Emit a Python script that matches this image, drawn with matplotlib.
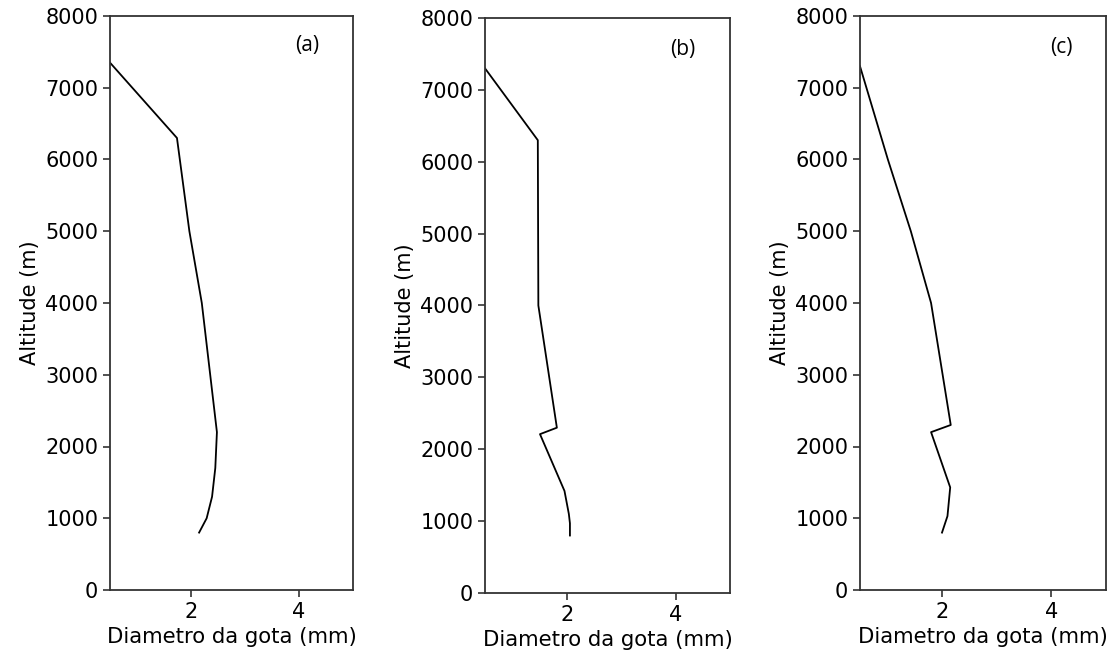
import numpy as np
import matplotlib
matplotlib.use("agg")
import matplotlib.pyplot as plt

# perfis de diametro de gota (mm) vs altitude (m)
alt_a = [7350, 6300, 5000, 4000, 2200, 1700, 1300, 1000, 800]
diam_a = [0.5, 1.74, 1.97, 2.20, 2.48, 2.45, 2.39, 2.29, 2.15]

alt_b = [7300, 6300, 4000, 2300, 2210, 1420, 1100, 970, 800]
diam_b = [0.5, 1.47, 1.48, 1.82, 1.51, 1.96, 2.04, 2.06, 2.06]

alt_c = [7300, 6000, 5000, 4000, 2300, 2200, 1430, 1030, 800]
diam_c = [0.5, 1.01, 1.43, 1.80, 2.16, 1.80, 2.15, 2.10, 2.00]

panel_labels = ["(a)", "(b)", "(c)"]
xticks = [2, 4]
yticks = [0, 1000, 2000, 3000, 4000, 5000, 6000, 7000, 8000]

W, H = 1116, 659
fig = plt.figure(figsize=(W / 100, H / 100), dpi=100)

# axes boxes in pixels: left, right, top, bottom
boxes = [(110, 353, 16, 590), (485, 730, 18, 593), (860, 1106, 16, 590)]
label_pos = [(307, 45), (683, 49), (1061, 47)]
data = [(diam_a, alt_a), (diam_b, alt_b), (diam_c, alt_c)]

for (l, r, t, b), (x, y), lab, (lx, ly) in zip(boxes, data, panel_labels, label_pos):
    ax = fig.add_axes([l / W, 1 - b / H, (r - l) / W, (b - t) / H])
    ax.plot(x, y, color="black", lw=1.3)
    ax.set_xlim(0.5, 5)
    ax.set_ylim(0, 8000)
    ax.set_xticks(xticks)
    ax.set_yticks(yticks)
    ax.tick_params(labelsize=15, length=5, width=1.2, color="#333333")
    for s in ax.spines.values():
        s.set_linewidth(1.3)
        s.set_color("#333333")
    ax.set_xlabel("Diametro da gota (mm)", fontsize=15.3, labelpad=4)
    ax.set_ylabel("Altitude (m)", fontsize=15, labelpad=4)
    fig.text(lx / W, 1 - ly / H, lab, fontsize=15, family="Open Sans",
             ha="center", va="center")

plt.savefig("out.png", dpi=100)
